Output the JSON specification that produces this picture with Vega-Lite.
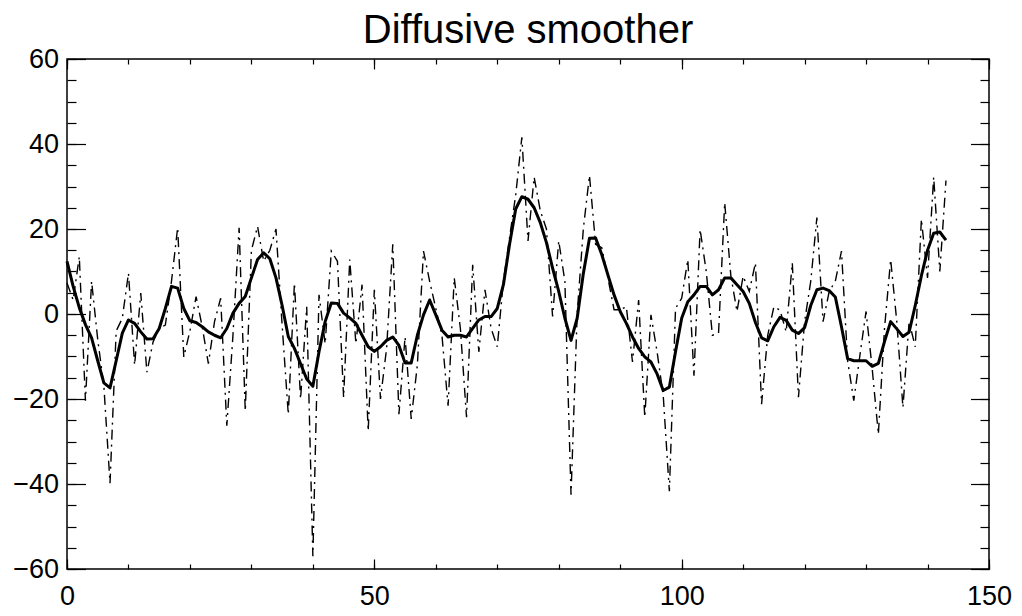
{
  "$schema": "https://vega.github.io/schema/vega-lite/v6.json",
  "width": 922,
  "height": 510,
  "autosize": {"type": "none"},
  "padding": {"left": 67, "top": 59, "right": 33, "bottom": 47},
  "background": "white",
  "config": {
    "view": {"stroke": "#000", "strokeWidth": 1.5},
    "font": "Liberation Sans",
    "axis": {"domain": false, "grid": false, "tickColor": "#000", "tickWidth": 1.2, "labelColor": "#000", "labelFont": "Liberation Sans", "labelFontSize": 27, "title": null, "labelFlush": false, "labelOverlap": false, "minExtent": 0, "maxExtent": 200}
  },
  "title": {"text": "Diffusive smoother", "fontSize": 40, "font": "Liberation Sans", "fontWeight": "normal", "color": "#000", "anchor": "middle", "baseline": "alphabetic", "offset": -38},
  "data": {"values": [
    {"x":0,"raw":7.3,"smooth":12.4},{"x":1,"raw":3.3,"smooth":6.5},{"x":2,"raw":13.5,"smooth":1.5},{"x":3,"raw":-20.4,"smooth":-2.5},{"x":4,"raw":7.7,"smooth":-5.6},
    {"x":5,"raw":-6,"smooth":-11},{"x":6,"raw":-17,"smooth":-16.2},{"x":7,"raw":-39.8,"smooth":-17.4},{"x":8,"raw":-4,"smooth":-11},{"x":9,"raw":-1,"smooth":-4.5},
    {"x":10,"raw":9.6,"smooth":-1.4},{"x":11,"raw":-12,"smooth":-2.2},{"x":12,"raw":4.9,"smooth":-4.2},{"x":13,"raw":-13.7,"smooth":-5.9},{"x":14,"raw":-6.6,"smooth":-5.8},
    {"x":15,"raw":-3.4,"smooth":-3.4},{"x":16,"raw":-2.6,"smooth":1.3},{"x":17,"raw":7.7,"smooth":6.5},{"x":18,"raw":20.3,"smooth":6.1},{"x":19,"raw":-10.1,"smooth":1.3},
    {"x":20,"raw":-4,"smooth":-1.6},{"x":21,"raw":4.1,"smooth":-2},{"x":22,"raw":-3,"smooth":-3},{"x":23,"raw":-11.7,"smooth":-4.2},{"x":24,"raw":-1.8,"smooth":-5},
    {"x":25,"raw":3.7,"smooth":-5.6},{"x":26,"raw":-26.3,"smooth":-3.4},{"x":27,"raw":-5,"smooth":0.2},{"x":28,"raw":20.3,"smooth":2.5},{"x":29,"raw":-22.8,"smooth":4.1},
    {"x":30,"raw":15,"smooth":8.5},{"x":31,"raw":20.6,"smooth":12.8},{"x":32,"raw":12.4,"smooth":14.4},{"x":33,"raw":15,"smooth":13},{"x":34,"raw":20,"smooth":8.5},
    {"x":35,"raw":-2.6,"smooth":2},{"x":36,"raw":-23.6,"smooth":-5.3},{"x":37,"raw":7.3,"smooth":-8.1},{"x":38,"raw":-20,"smooth":-11.7},{"x":39,"raw":1.7,"smooth":-15.3},
    {"x":40,"raw":-57,"smooth":-17},{"x":41,"raw":4.5,"smooth":-8.9},{"x":42,"raw":-7,"smooth":-1.8},{"x":43,"raw":14.8,"smooth":2.6},{"x":44,"raw":12.4,"smooth":2.5},
    {"x":45,"raw":-19.6,"smooth":0.2},{"x":46,"raw":12.8,"smooth":-0.9},{"x":47,"raw":-7,"smooth":-2.2},{"x":48,"raw":6.9,"smooth":-5},{"x":49,"raw":-27.5,"smooth":-7.7},
    {"x":50,"raw":5.7,"smooth":-8.8},{"x":51,"raw":-20,"smooth":-7.7},{"x":52,"raw":-8,"smooth":-6.2},{"x":53,"raw":16.4,"smooth":-5.4},{"x":54,"raw":-23.6,"smooth":-7.4},
    {"x":55,"raw":-5.4,"smooth":-11.5},{"x":56,"raw":-24.7,"smooth":-11.5},{"x":57,"raw":-12,"smooth":-5},{"x":58,"raw":14.8,"smooth":-0.2},{"x":59,"raw":7.7,"smooth":3.3},
    {"x":60,"raw":1.3,"smooth":-0.2},{"x":61,"raw":-5,"smooth":-3.8},{"x":62,"raw":-21.6,"smooth":-5.4},{"x":63,"raw":8.5,"smooth":-5},{"x":64,"raw":-3.4,"smooth":-5},
    {"x":65,"raw":-24.3,"smooth":-5.4},{"x":66,"raw":11.6,"smooth":-3.4},{"x":67,"raw":-8.9,"smooth":-1.4},{"x":68,"raw":5.7,"smooth":-0.6},{"x":69,"raw":-3.4,"smooth":-0.6},
    {"x":70,"raw":-7.7,"smooth":1.3},{"x":71,"raw":7.7,"smooth":6.9},{"x":72,"raw":18,"smooth":16.4},{"x":73,"raw":28,"smooth":24.7},{"x":74,"raw":41.6,"smooth":27.6},
    {"x":75,"raw":17.2,"smooth":27},{"x":76,"raw":32.2,"smooth":25},{"x":77,"raw":24.3,"smooth":21.5},{"x":78,"raw":20,"smooth":16.8},{"x":79,"raw":-0.6,"smooth":10.8},
    {"x":80,"raw":17.2,"smooth":5.3},{"x":81,"raw":7.7,"smooth":-1},{"x":82,"raw":-42.5,"smooth":-6.2},{"x":83,"raw":0,"smooth":-1},{"x":84,"raw":20,"smooth":9.5},
    {"x":85,"raw":32.6,"smooth":17.8},{"x":86,"raw":16.4,"smooth":17.9},{"x":87,"raw":15.6,"smooth":14},{"x":88,"raw":8.5,"smooth":9.2},{"x":89,"raw":1,"smooth":4.5},
    {"x":90,"raw":1,"smooth":0.6},{"x":91,"raw":1.7,"smooth":-2.2},{"x":92,"raw":-11.3,"smooth":-5.4},{"x":93,"raw":3.3,"smooth":-8.1},{"x":94,"raw":-24.3,"smooth":-10.1},
    {"x":95,"raw":-0.2,"smooth":-11.3},{"x":96,"raw":-8.9,"smooth":-14.1},{"x":97,"raw":-19.2,"smooth":-18},{"x":98,"raw":-41.7,"smooth":-17.2},{"x":99,"raw":1.3,"smooth":-8.9},
    {"x":100,"raw":3.7,"smooth":-1},{"x":101,"raw":12.8,"smooth":2.9},{"x":102,"raw":-14.5,"smooth":4.5},{"x":103,"raw":19.9,"smooth":6.5},{"x":104,"raw":10,"smooth":6.5},
    {"x":105,"raw":-5,"smooth":4.5},{"x":106,"raw":-4.5,"smooth":5.7},{"x":107,"raw":26.2,"smooth":8.5},{"x":108,"raw":9,"smooth":8.5},{"x":109,"raw":0.6,"smooth":6.9},
    {"x":110,"raw":8.9,"smooth":5.3},{"x":111,"raw":5.3,"smooth":2.5},{"x":112,"raw":12,"smooth":-2},{"x":113,"raw":-21.2,"smooth":-5.6},{"x":114,"raw":-5,"smooth":-6.3},
    {"x":115,"raw":1.7,"smooth":-3},{"x":116,"raw":0.9,"smooth":-0.8},{"x":117,"raw":-4.2,"smooth":-1.5},{"x":118,"raw":12,"smooth":-3.8},{"x":119,"raw":-19.6,"smooth":-4.6},
    {"x":120,"raw":-1.8,"smooth":-3.2},{"x":121,"raw":7.7,"smooth":2},{"x":122,"raw":22.7,"smooth":5.7},{"x":123,"raw":-1.8,"smooth":6.1},{"x":124,"raw":5.3,"smooth":5.5},
    {"x":125,"raw":7.7,"smooth":4},{"x":126,"raw":14.8,"smooth":-3},{"x":127,"raw":-11,"smooth":-10.5},{"x":128,"raw":-20.4,"smooth":-11},{"x":129,"raw":-9.7,"smooth":-11},
    {"x":130,"raw":0.6,"smooth":-11},{"x":131,"raw":-12.9,"smooth":-12.3},{"x":132,"raw":-28.3,"smooth":-11.6},{"x":133,"raw":-3.4,"smooth":-6.5},{"x":134,"raw":12.8,"smooth":-1.8},
    {"x":135,"raw":-1.8,"smooth":-3.5},{"x":136,"raw":-22,"smooth":-5.3},{"x":137,"raw":-1.8,"smooth":-4.3},{"x":138,"raw":-7.7,"smooth":2},{"x":139,"raw":22.3,"smooth":9},
    {"x":140,"raw":8.5,"smooth":15},{"x":141,"raw":32.2,"smooth":19},{"x":142,"raw":10,"smooth":19.3},{"x":143,"raw":31.4,"smooth":17.4}
  ]},
  "resolve": {"axis": {"x": "independent", "y": "independent"}},
  "layer": [
    {
      "mark": {"type": "line", "color": "#000", "strokeWidth": 1.4, "strokeDash": [10, 5, 2, 5]},
      "encoding": {
        "x": {"field": "x", "type": "quantitative", "scale": {"domain": [0, 150], "nice": false, "zero": false},
              "axis": {"orient": "bottom", "title": null, "values": [0, 50, 100, 150], "tickSize": -10, "labelPadding": 24, "format": "d"}},
        "y": {"field": "raw", "type": "quantitative", "scale": {"domain": [-60, 60], "nice": false, "zero": false},
              "axis": {"orient": "left", "title": null, "values": [-60, -40, -20, 0, 20, 40, 60], "tickSize": -18.5, "labelPadding": 27, "format": "d"}}
      }
    },
    {
      "mark": {"type": "line", "color": "#000", "strokeWidth": 3, "strokeJoin": "round"},
      "encoding": {
        "x": {"field": "x", "type": "quantitative",
              "axis": {"orient": "bottom", "title": null, "values": [0,10,20,30,40,50,60,70,80,90,100,110,120,130,140,150], "tickSize": -5, "labels": false}},
        "y": {"field": "smooth", "type": "quantitative",
              "axis": {"orient": "left", "title": null, "values": [-60,-55,-50,-45,-40,-35,-30,-25,-20,-15,-10,-5,0,5,10,15,20,25,30,35,40,45,50,55,60], "tickSize": -9, "labels": false}}
      }
    },
    {
      "mark": {"type": "line", "opacity": 0},
      "encoding": {
        "x": {"field": "x", "type": "quantitative",
              "axis": {"orient": "top", "title": null, "values": [0, 50, 100, 150], "tickSize": -10, "labels": false}},
        "y": {"field": "smooth", "type": "quantitative",
              "axis": {"orient": "right", "title": null, "values": [-60, -40, -20, 0, 20, 40, 60], "tickSize": -18.5, "labels": false}}
      }
    },
    {
      "mark": {"type": "line", "opacity": 0},
      "encoding": {
        "x": {"field": "x", "type": "quantitative",
              "axis": {"orient": "top", "title": null, "values": [0,10,20,30,40,50,60,70,80,90,100,110,120,130,140,150], "tickSize": -5, "labels": false}},
        "y": {"field": "smooth", "type": "quantitative",
              "axis": {"orient": "right", "title": null, "values": [-60,-55,-50,-45,-40,-35,-30,-25,-20,-15,-10,-5,0,5,10,15,20,25,30,35,40,45,50,55,60], "tickSize": -9, "labels": false}}
      }
    }
  ]
}
